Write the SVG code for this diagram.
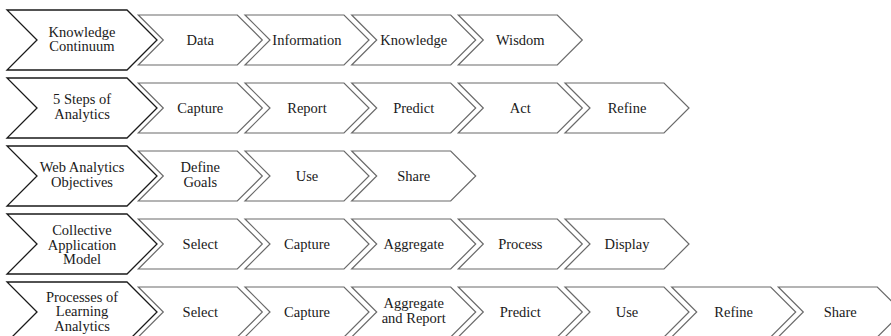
<svg xmlns="http://www.w3.org/2000/svg" xmlns:xlink="http://www.w3.org/1999/xlink" width="891" height="336" viewBox="0 0 891 336" font-family="'Liberation Serif', 'DejaVu Serif', serif">
<style>
.lab{fill:#fff;stroke:#1a1a1a;stroke-width:1.3}
.stp{fill:#fff;stroke:#6a6a6a;stroke-width:1.2}
.t{font-family:'Liberation Serif','DejaVu Serif',serif;font-size:14.5px;fill:#1a1a1a;text-anchor:middle}
</style>
<defs>
<polygon id="lab" points="0,0 120,0 150,30 120,60 0,60 30,30"/>
<polygon id="stp" points="0,0 99,0 124,25 99,50 0,50 25,25"/>
</defs>
<g id="connectors"></g>
<!-- Row 1 -->
<g id="r1-label"><use xlink:href="#lab" class="lab" x="7" y="10"/><text class="t" x="82" y="36.5">Knowledge</text><text class="t" x="82" y="51">Continuum</text></g>
<g id="r1-data"><use xlink:href="#stp" class="stp" x="138.3" y="15"/><text class="t" x="200.3" y="45">Data</text></g>
<g id="r1-information"><use xlink:href="#stp" class="stp" x="245" y="15"/><text class="t" x="307" y="45">Information</text></g>
<g id="r1-knowledge"><use xlink:href="#stp" class="stp" x="351.7" y="15"/><text class="t" x="413.7" y="45">Knowledge</text></g>
<g id="r1-wisdom"><use xlink:href="#stp" class="stp" x="458.3" y="15"/><text class="t" x="520.3" y="45">Wisdom</text></g>
<!-- Row 2 -->
<g id="r2-label"><use xlink:href="#lab" class="lab" x="7" y="78"/><text class="t" x="82" y="104">5 Steps of</text><text class="t" x="82" y="118.5">Analytics</text></g>
<g id="r2-capture"><use xlink:href="#stp" class="stp" x="138.3" y="83"/><text class="t" x="200.3" y="113">Capture</text></g>
<g id="r2-report"><use xlink:href="#stp" class="stp" x="245" y="83"/><text class="t" x="307" y="113">Report</text></g>
<g id="r2-predict"><use xlink:href="#stp" class="stp" x="351.7" y="83"/><text class="t" x="413.7" y="113">Predict</text></g>
<g id="r2-act"><use xlink:href="#stp" class="stp" x="458.3" y="83"/><text class="t" x="520.3" y="113">Act</text></g>
<g id="r2-refine"><use xlink:href="#stp" class="stp" x="565" y="83"/><text class="t" x="627" y="113">Refine</text></g>
<!-- Row 3 -->
<g id="r3-label"><use xlink:href="#lab" class="lab" x="7" y="146"/><text class="t" x="82" y="172">Web Analytics</text><text class="t" x="82" y="186.5">Objectives</text></g>
<g id="r3-define-goals"><use xlink:href="#stp" class="stp" x="138.3" y="151"/><text class="t" x="200.3" y="172">Define</text><text class="t" x="200.3" y="186.5">Goals</text></g>
<g id="r3-use"><use xlink:href="#stp" class="stp" x="245" y="151"/><text class="t" x="307" y="181">Use</text></g>
<g id="r3-share"><use xlink:href="#stp" class="stp" x="351.7" y="151"/><text class="t" x="413.7" y="181">Share</text></g>
<!-- Row 4 -->
<g id="r4-label"><use xlink:href="#lab" class="lab" x="7" y="214"/><text class="t" x="82" y="235">Collective</text><text class="t" x="82" y="249.5">Application</text><text class="t" x="82" y="264">Model</text></g>
<g id="r4-select"><use xlink:href="#stp" class="stp" x="138.3" y="219"/><text class="t" x="200.3" y="249">Select</text></g>
<g id="r4-capture"><use xlink:href="#stp" class="stp" x="245" y="219"/><text class="t" x="307" y="249">Capture</text></g>
<g id="r4-aggregate"><use xlink:href="#stp" class="stp" x="351.7" y="219"/><text class="t" x="413.7" y="249">Aggregate</text></g>
<g id="r4-process"><use xlink:href="#stp" class="stp" x="458.3" y="219"/><text class="t" x="520.3" y="249">Process</text></g>
<g id="r4-display"><use xlink:href="#stp" class="stp" x="565" y="219"/><text class="t" x="627" y="249">Display</text></g>
<!-- Row 5 -->
<g id="r5-label"><use xlink:href="#lab" class="lab" x="7" y="282"/><text class="t" x="82" y="301.5">Processes of</text><text class="t" x="82" y="316">Learning</text><text class="t" x="82" y="330.5">Analytics</text></g>
<g id="r5-select"><use xlink:href="#stp" class="stp" x="138.3" y="287"/><text class="t" x="200.3" y="317">Select</text></g>
<g id="r5-capture"><use xlink:href="#stp" class="stp" x="245" y="287"/><text class="t" x="307" y="317">Capture</text></g>
<g id="r5-aggregate-report"><use xlink:href="#stp" class="stp" x="351.7" y="287"/><text class="t" x="413.7" y="308">Aggregate</text><text class="t" x="413.7" y="322.5">and Report</text></g>
<g id="r5-predict"><use xlink:href="#stp" class="stp" x="458.3" y="287"/><text class="t" x="520.3" y="317">Predict</text></g>
<g id="r5-use"><use xlink:href="#stp" class="stp" x="565" y="287"/><text class="t" x="627" y="317">Use</text></g>
<g id="r5-refine"><use xlink:href="#stp" class="stp" x="671.7" y="287"/><text class="t" x="733.7" y="317">Refine</text></g>
<g id="r5-share"><use xlink:href="#stp" class="stp" x="778.3" y="287"/><text class="t" x="840.3" y="317">Share</text></g>
</svg>
